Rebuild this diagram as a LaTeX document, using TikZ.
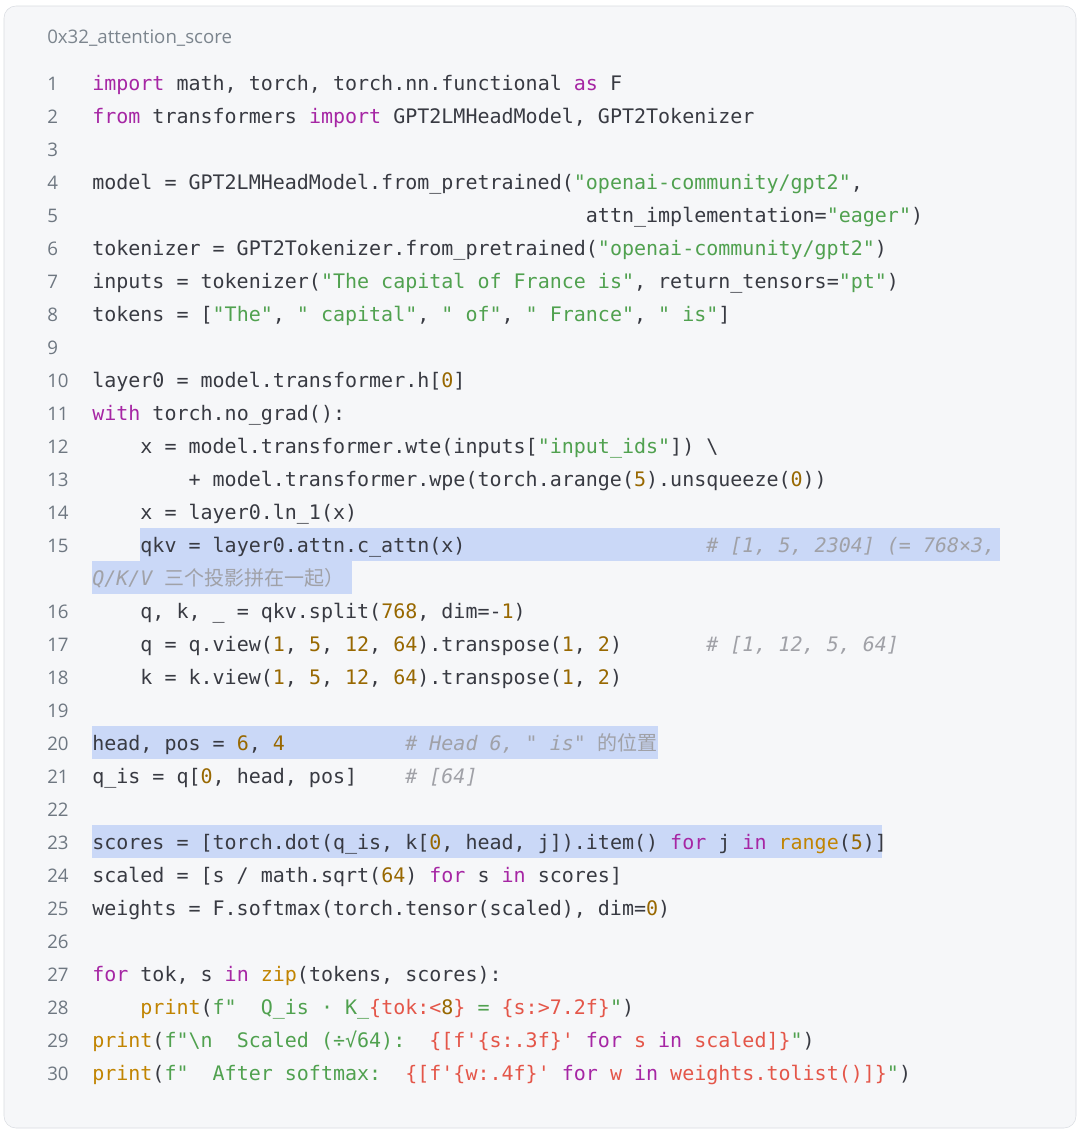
\documentclass[tikz,border=0pt]{standalone}
\usepackage{fontspec}
\newfontfamily\codefont{DejaVu Sans Mono}
\newfontfamily\uifont{Open Sans}
\newfontfamily\cjk{Noto Sans CJK SC}
\definecolor{bgcol}{HTML}{F6F7F9}
\definecolor{framecol}{HTML}{DADDE2}
\definecolor{hlcol}{HTML}{CAD8F7}
\definecolor{txtcol}{HTML}{383A42}
\definecolor{kwcol}{HTML}{A626A4}
\definecolor{strcol}{HTML}{50A14F}
\definecolor{numcol}{HTML}{986801}
\definecolor{fncol}{HTML}{C18401}
\definecolor{ipcol}{HTML}{E45649}
\definecolor{cmcol}{HTML}{A0A1A7}
\definecolor{lncol}{HTML}{6E7781}
\newcommand{\kw}[1]{\textcolor{kwcol}{#1}}
\newcommand{\st}[1]{\textcolor{strcol}{#1}}
\newcommand{\nm}[1]{\textcolor{numcol}{#1}}
\newcommand{\fn}[1]{\textcolor{fncol}{#1}}
\newcommand{\ip}[1]{\textcolor{ipcol}{#1}}
\newcommand{\cm}[1]{\textcolor{cmcol}{\itshape #1}}
\newlength\cw
\newcommand{\sps}[1]{\hspace*{#1\cw}}
% one code row: name, row, line number, text
\newcommand{\codeline}[4]{%
  \node[lnum] (n#1) at (47,{84+33*#2+6}) {#3};
  \node[code] (c#1) at (92,{84+33*#2+6}) {#4};}
\tikzset{
  lnum/.style={anchor=base west, inner sep=0pt, text=lncol, font=\uifont\fontsize{14}{17}\selectfont},
  code/.style={anchor=base west, inner sep=0pt, text=txtcol, font=\codefont\fontsize{15}{18}\selectfont},
  hl/.style={fill=hlcol, draw=none}
}
\begin{document}
\settowidth{\cw}{\codefont\fontsize{15}{18}\selectfont x}
\begin{tikzpicture}[x=0.75pt, y=-0.75pt]
  \useasboundingbox (0,0) rectangle (1080,1132);
  \fill[white] (0,0) rectangle (1080,1132);
  \draw[fill=bgcol, draw=framecol, rounded corners=9pt] (4,6) rectangle (1076,1128);
  % highlighted rows
  \path[hl] (140,528) rectangle (1000,561);
  \path[hl] (92,561) rectangle (352,594);
  \path[hl] (92,726) rectangle (658,759);
  \path[hl] (92,825) rectangle (882,858);
  \node[anchor=base west, inner sep=0pt, text=lncol!90, font=\uifont\fontsize{14}{17}\selectfont] (title) at (47,43) {0x32\_attention\_score};
  % code
  \codeline{1}{0}{1}{\kw{import} math, torch, torch.nn.functional \kw{as} F}
  \codeline{2}{1}{2}{\kw{from} transformers \kw{import} GPT2LMHeadModel, GPT2Tokenizer}
  \codeline{3}{2}{3}{}
  \codeline{4}{3}{4}{model = GPT2LMHeadModel.from\_pretrained(\st{"openai-community/gpt2"},}
  \codeline{5}{4}{5}{\sps{41}attn\_implementation=\st{"eager"})}
  \codeline{6}{5}{6}{tokenizer = GPT2Tokenizer.from\_pretrained(\st{"openai-community/gpt2"})}
  \codeline{7}{6}{7}{inputs = tokenizer(\st{"The capital of France is"}, return\_tensors=\st{"pt"})}
  \codeline{8}{7}{8}{tokens = [\st{"The"}, \st{"~capital"}, \st{"~of"}, \st{"~France"}, \st{"~is"}]}
  \codeline{9}{8}{9}{}
  \codeline{10}{9}{10}{layer0 = model.transformer.h[\nm{0}]}
  \codeline{11}{10}{11}{\kw{with} torch.no\_grad():}
  \codeline{12}{11}{12}{\sps{4}x = model.transformer.wte(inputs[\st{"input\_ids"}]) \textbackslash}
  \codeline{13}{12}{13}{\sps{8}+ model.transformer.wpe(torch.arange(\nm{5}).unsqueeze(\nm{0}))}
  \codeline{14}{13}{14}{\sps{4}x = layer0.ln\_1(x)}
  \codeline{15}{14}{15}{\sps{4}qkv = layer0.attn.c\_attn(x)\sps{20}\cm{\# [1, 5, 2304] (= 768×3,}}
  \node[code] (c15b) at (92,{84+33*15+6}) {\cm{Q/K/V {\cjk\upshape 三个投影拼在一起）}}};
  \codeline{16}{16}{16}{\sps{4}q, k, \_ = qkv.split(\nm{768}, dim=-\nm{1})}
  \codeline{17}{17}{17}{\sps{4}q = q.view(\nm{1}, \nm{5}, \nm{12}, \nm{64}).transpose(\nm{1}, \nm{2})\sps{7}\cm{\# [1, 12, 5, 64]}}
  \codeline{18}{18}{18}{\sps{4}k = k.view(\nm{1}, \nm{5}, \nm{12}, \nm{64}).transpose(\nm{1}, \nm{2})}
  \codeline{19}{19}{19}{}
  \codeline{20}{20}{20}{head, pos = \nm{6}, \nm{4}\sps{10}\cm{\# Head 6, "~is" {\cjk\upshape 的位置}}}
  \codeline{21}{21}{21}{q\_is = q[\nm{0}, head, pos]\sps{4}\cm{\# [64]}}
  \codeline{22}{22}{22}{}
  \codeline{23}{23}{23}{scores = [torch.dot(q\_is, k[\nm{0}, head, j]).item() \kw{for} j \kw{in} \fn{range}(\nm{5})]}
  \codeline{24}{24}{24}{scaled = [s / math.sqrt(\nm{64}) \kw{for} s \kw{in} scores]}
  \codeline{25}{25}{25}{weights = F.softmax(torch.tensor(scaled), dim=\nm{0})}
  \codeline{26}{26}{26}{}
  \codeline{27}{27}{27}{\kw{for} tok, s \kw{in} \fn{zip}(tokens, scores):}
  \codeline{28}{28}{28}{\sps{4}\fn{print}(\st{f"~~Q\_is · K\_}\ip{\{tok:<}\nm{8}\ip{\}}\st{~=~}\ip{\{s:>7.2f\}}\st{"})}
  \codeline{29}{29}{29}{\fn{print}(\st{f"\textbackslash n~~Scaled (÷√64):~~}\ip{\{[f'\{s:.3f\}'~}\kw{for}\ip{~s~}\kw{in}\ip{~scaled]\}}\st{"})}
  \codeline{30}{30}{30}{\fn{print}(\st{f"~~After softmax:~~}\ip{\{[f'\{w:.4f\}'~}\kw{for}\ip{~w~}\kw{in}\ip{~weights.tolist()]\}}\st{"})}
\end{tikzpicture}
\end{document}
